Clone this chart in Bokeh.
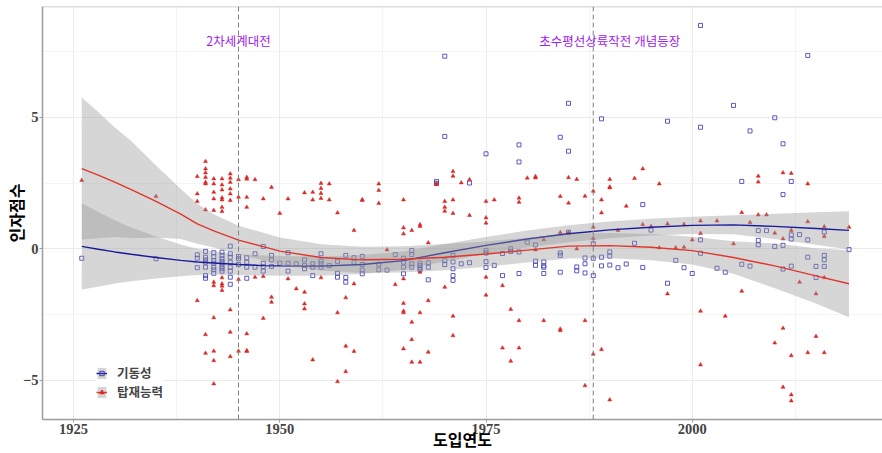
from bokeh.plotting import figure
from bokeh.models import FixedTicker, Span, Label, Legend, LegendItem
from bokeh.embed import file_html
from bokeh.resources import INLINE

# ---------------- data ----------------
series_names = ["기동성", "탑재능력"]

red_years = (
    [1926, 1935] + [1940]*4 + [1941]*9 + [1942]*11 + [1943]*11 + [1944]*9 + [1945]*4 + [1946]*7
    + [1947]*2 + [1948]*3 + [1949]*3 + [1950] + [1951]*2 + [1952] + [1953]*4 + [1954]*3 + [1955]*5
    + [1956]*2 + [1957]*3 + [1958]*3 + [1959]*3 + [1960]*2 + [1962]*3 + [1963] + [1964] + [1965]*8
    + [1966]*4 + [1967]*5 + [1968]*3 + [1969]*2 + [1970]*4 + [1971]*6 + [1972] + [1973]*2 + [1975]*5
    + [1976] + [1977]*2 + [1978]*2 + [1979]*4 + [1980] + [1981]*3 + [1982]*2 + [1984]*4 + [1985]*3
    + [1986]*2 + [1987]*3 + [1988]*4 + [1989]*3 + [1990]*4 + [1991] + [1992] + [1993] + [1994]*2
    + [1995] + [1996]*2 + [1997]*2 + [1998] + [1999]*2 + [2000] + [2001]*4 + [2003] + [2004] + [2005]
    + [2006]*2 + [2007] + [2008]*3 + [2009] + [2010]*2 + [2011]*4 + [2012]*5 + [2013] + [2014]*3
    + [2015]*2 + [2016]*4 + [2019]
)
red_scores = [
    2.6, 1.99,
    2.75, 2.09, 1.8, -1.97,
    3.32, 3.04, 2.89, 2.72, 2.53, 2.47, 1.48, -3.26, -3.97,
    2.66, 2.47, 2.15, 1.9, 1.46, -1.27, -1.4, -2.62, -3.89, -4.25, -5.13,
    2.66, 2.43, 2.24, 1.94, 1.86, 1.58, 1.42, -1.1, -1.33, -1.42, -1.58,
    2.85, 2.69, 2.53, 2.28, 2.09, 1.84, -2.32, -3.17, -4.1,
    2.63, 1.96, -1.16, -3.89,
    2.72, 2.65, 1.96, 1.58, -3.23, -3.87, -3.9,
    2.63, -1.08,
    1.9, -1.05, -2.64,
    2.34, -1.84, -2.03,
    1.35,
    1.9, -1.14,
    -1.52,
    2.13, -1.65, -2.09, -2.28,
    2.15, 1.86, -4.22,
    2.49, 2.3, 2.11, 1.92, -1.1,
    2.47, 1.86,
    1.37, -2.43, -5.05,
    -1.86, -3.7, -4.67,
    0.7, -1.33, -3.9,
    1.87, 1.84,
    2.47, 2.22, 1.73,
    -0.04,
    -1.36,
    1.86, 0.8, 0.57, -1.14, -2.07, -2.37, -2.43, -3.8,
    0.7, -2.79, -3.45, -4.31,
    0.92, 0.85, -0.89, -2.43, -4.31,
    0.23, -1.97, -3.93,
    2.49, 2.44,
    1.8, 1.58, 1.43, -1.46,
    2.94, 2.76, 1.86, 1.35, -2.56, -3.3,
    2.51,
    2.63, 1.27,
    1.8, 1.18, 0.98, -1.08, -1.76,
    1.86,
    -1.4, -3.77,
    -2.3, -4.27,
    1.93, 1.77, -2.73, -3.77,
    2.69,
    2.75, 2.7, -0.04,
    0.35, -2.73,
    1.99, 0.62, -3.05, -3.11,
    2.71, 1.74, 0.62,
    2.64, 0.0,
    2.0, -2.73, -5.2,
    2.19, 0.82, 0.4, -4.0,
    1.86, 1.37, -3.83,
    2.64, 2.35, 2.32, -5.74,
    0.7,
    1.62,
    2.68,
    3.04, 0.92,
    0.85,
    2.47, 0.04,
    0.95, -1.71,
    0.04,
    0.93, 0.06,
    0.34,
    1.06, 0.59, -2.37, -4.41,
    1.06,
    -2.56,
    0.19,
    1.38, -1.61,
    1.0,
    2.76, 2.54, 1.29,
    1.29,
    0.6, -3.58,
    2.89, 0.38, -3.02, -5.26,
    2.87, 0.7, -4.06, -5.55, -5.78,
    -1.27,
    2.47, 1.03, -3.95,
    -1.71, -3.33,
    0.84, 0.47, -1.09, -3.95,
    0.82,
]

blue_years = (
    [1926, 1935] + [1940]*3 + [1941]*7 + [1942]*7 + [1943]*8 + [1944]*8 + [1945]*3 + [1946]*4
    + [1947]*2 + [1948]*4 + [1949]*3 + [1950] + [1951]*3 + [1952] + [1953]*3 + [1954]*3 + [1955]*4
    + [1956] + [1957]*3 + [1958]*3 + [1959]*2 + [1960]*4 + [1962]*2 + [1963] + [1964] + [1965]*4
    + [1966]*4 + [1967]*4 + [1968]*3 + [1969]*2 + [1970]*4 + [1971]*5 + [1972] + [1973]*2 + [1975]*5
    + [1976] + [1977]*2 + [1978]*2 + [1979]*4 + [1980] + [1981]*3 + [1982]*4 + [1984]*4 + [1985]*3
    + [1986]*2 + [1987]*3 + [1988]*3 + [1989]*3 + [1990]*3 + [1991] + [1992] + [1993] + [1994]*2
    + [1995] + [1997]*2 + [1998] + [1999] + [2000] + [2001]*4 + [2003] + [2004] + [2005] + [2006]*2
    + [2007]*2 + [2008]*3 + [2009] + [2010]*2 + [2011]*4 + [2012]*4 + [2013] + [2014]*3 + [2015]*2
    + [2016]*4 + [2019]
)
blue_scores = [
    -0.36, -0.38,
    -0.23, -0.36, -0.72,
    -0.1, -0.32, -0.42, -0.51, -0.7, -1.02, -1.12,
    -0.15, -0.3, -0.45, -0.55, -0.7, -0.8, -0.93,
    -0.13, -0.25, -0.38, -0.48, -0.57, -0.67, -0.76, -0.85,
    0.1, -0.19, -0.32, -0.51, -0.7, -0.85, -1.08, -1.35,
    -0.29, -0.38, -0.6,
    -0.34, -0.51, -0.7, -1.12,
    -0.19, -0.7,
    0.09, -0.55, -0.68, -0.85,
    -0.25, -0.42, -0.67,
    -0.55,
    -0.15, -0.55, -0.85,
    -0.57,
    -0.42, -0.63, -0.76,
    -0.57, -0.7, -1.02,
    -0.19, -0.47, -0.57, -0.7,
    -0.64,
    -0.48, -0.93, -1.08,
    -0.25, -1.09, -1.27,
    -0.34, -0.51,
    -0.29, -0.6, -0.81, -0.95,
    -0.59, -0.8,
    -0.81,
    -0.22,
    -0.36, -0.51, -0.7, -0.95,
    -0.07, -0.22, -0.57, -0.7,
    -0.55, -0.64, -0.73, -0.8,
    -0.53, -0.7, -1.18,
    2.56, 2.49,
    7.32, 4.27, -0.44, -0.6,
    -0.25, -0.5, -0.76, -1.02, -1.2,
    -0.57,
    2.5, -0.53,
    3.61, -0.06, -0.16, -0.49, -0.71,
    -0.63,
    -0.18, -1.02,
    0.0, -0.1,
    3.95, 3.3, -0.12, -0.94,
    0.25,
    0.15, -0.47, -0.63,
    -0.5, -0.65, -0.7, -0.94,
    4.24, -0.16, -0.25, -0.89,
    5.53, 3.71, 0.63,
    -0.69, -0.84,
    -0.35, -0.57, -0.92,
    0.19, -0.36, -1.02,
    4.94, -0.32, -0.65,
    -0.12, -0.28, -0.62,
    -0.72,
    -0.58,
    0.21,
    1.68, -0.71,
    0.71,
    4.85, -1.31,
    -0.44,
    -0.72,
    -0.94,
    8.49, 4.62, 0.34, -0.17,
    -0.74,
    -0.89,
    5.45,
    2.56, -0.59,
    4.48, -0.66,
    0.69, 0.32, 0.15,
    0.69,
    4.98, 0.09,
    3.99, 2.06, 0.13, -0.77,
    2.56, 0.53, 0.37, -0.66,
    0.54,
    7.35, 0.34, -0.32,
    -0.67, -1.09,
    0.64, -0.25, -0.42, -0.67,
    -0.03,
]

# smoothed trend lines and their confidence bands
smooth_years = [1926, 1928, 1930, 1932, 1935, 1938, 1940, 1942, 1945, 1948, 1950, 1955,
                1960, 1965, 1970, 1975, 1980, 1985, 1990, 1995, 2000, 2005, 2010, 2015, 2019]
blue_fit = [0.09, -0.02, -0.12, -0.21, -0.33, -0.44, -0.50, -0.54, -0.60, -0.64, -0.65, -0.66,
            -0.60, -0.45, -0.15, 0.13, 0.37, 0.57, 0.72, 0.82, 0.89, 0.91, 0.85, 0.77, 0.70]
blue_halfwidth = [1.64, 1.42, 1.20, 1.02, 0.80, 0.60, 0.50, 0.45, 0.40, 0.38, 0.38, 0.37,
                  0.36, 0.35, 0.33, 0.32, 0.32, 0.32, 0.32, 0.32, 0.33, 0.36, 0.48, 0.62, 0.73]
red_fit = [3.05, 2.80, 2.53, 2.25, 1.80, 1.32, 0.95, 0.68, 0.33, 0.08, -0.09, -0.33,
           -0.42, -0.40, -0.32, -0.20, -0.05, 0.10, 0.12, 0.06, -0.07, -0.33, -0.65, -1.03, -1.33]
red_halfwidth = [2.70, 2.40, 2.08, 1.85, 1.37, 0.95, 0.76, 0.63, 0.55, 0.53, 0.52, 0.50,
                 0.50, 0.50, 0.50, 0.48, 0.47, 0.47, 0.48, 0.50, 0.53, 0.62, 0.85, 1.05, 1.27]

x_ticks = [1925, 1950, 1975, 2000]
x_minor = [1937.5, 1962.5, 1987.5, 2012.5]
y_ticks = [-5, 0, 5]
y_minor = [-2.5, 2.5, 7.5]

events = [(1945, "2차세계대전", 1945), (1988, "초수평선상륙작전 개념등장", 1990)]
event_label_y = 7.92

x_title = "도입연도"
y_title = "인자점수"

# ---------------- styles ----------------
BLUE_PT = "#4040B8"
RED_PT = "#D92A2A"
BLUE_LN = "#1B1B9A"
RED_LN = "#E0362C"
KR = "Noto Sans CJK KR"
KR_COMPACT = "DejaVu Sans, Noto Sans CJK KR"   # compact line metrics, Hangul from Noto CJK

X0, X1 = 1921.24, 2023.06
Y0, Y1 = -6.49, 9.21

p = figure(width=882, height=453, x_range=(X0, X1), y_range=(Y0, Y1),
           output_backend="svg", toolbar_location=None,
           min_border_left=42, min_border_right=0, min_border_top=6, min_border_bottom=34)
p.background_fill_color = "white"
p.border_fill_color = "white"
p.outline_line_color = None

# grid
p.xaxis.ticker = FixedTicker(ticks=x_ticks, minor_ticks=x_minor)
p.yaxis.ticker = FixedTicker(ticks=y_ticks, minor_ticks=y_minor)
p.xgrid.ticker = FixedTicker(ticks=x_ticks, minor_ticks=x_minor)
p.ygrid.ticker = FixedTicker(ticks=y_ticks, minor_ticks=y_minor)
for g in (p.xgrid, p.ygrid):
    g.grid_line_color = "#EBEBEB"
    g.grid_line_width = 1
    g.minor_grid_line_color = "#F4F4F4"
    g.minor_grid_line_width = 1

# axes
for ax in (p.xaxis, p.yaxis):
    ax.axis_line_color = "#9C9C9C"
    ax.axis_line_width = 1.5
    ax.major_tick_line_color = "#9C9C9C"
    ax.major_tick_out = 3
    ax.major_tick_in = 0
    ax.minor_tick_out = 0
    ax.minor_tick_in = 0
    ax.major_label_text_font = "Liberation Serif"
    ax.major_label_text_font_style = "bold"
    ax.major_label_text_font_size = "14.5px"
    ax.major_label_text_color = "#444444"
    ax.major_label_text_line_height = 1.0
    ax.major_label_standoff = 1
    ax.axis_label_text_font = KR
    ax.axis_label_text_font_style = "bold"
    ax.axis_label_text_font_size = "16px"
    ax.axis_label_text_color = "black"
    ax.axis_label_text_line_height = 1.0
p.xaxis.axis_label = x_title
p.yaxis.axis_label = y_title
p.xaxis.axis_label_standoff = -10
p.yaxis.axis_label_standoff = -8

p.add_layout(Span(location=Y1, dimension="width", line_color="#BDBDBD", line_width=1.5))

# points
p.scatter(blue_years, blue_scores, marker="square", size=4, fill_color=None,
          line_color=BLUE_PT, line_width=1, line_alpha=0.85)
p.scatter(red_years, red_scores, marker="triangle", size=4, fill_color=RED_PT,
          line_color=RED_PT, line_width=0.5)

# smooth bands + lines
blue_lo = [f - h for f, h in zip(blue_fit, blue_halfwidth)]
blue_hi = [f + h for f, h in zip(blue_fit, blue_halfwidth)]
red_lo = [f - h for f, h in zip(red_fit, red_halfwidth)]
red_hi = [f + h for f, h in zip(red_fit, red_halfwidth)]

b_band = p.varea(x=smooth_years, y1=blue_lo, y2=blue_hi, fill_color="#999999", fill_alpha=0.4)
b_line = p.line(smooth_years, blue_fit, line_color=BLUE_LN, line_width=1.4)
r_band = p.varea(x=smooth_years, y1=red_lo, y2=red_hi, fill_color="#999999", fill_alpha=0.4)
r_line = p.line(smooth_years, red_fit, line_color=RED_LN, line_width=1.4)

# legend key markers (placed off-range, only shown in the legend)
b_key = p.scatter([X0 - 10], [0], marker="square", size=4, fill_color=None,
                  line_color=BLUE_PT, line_width=1)
r_key = p.scatter([X0 - 10], [0], marker="triangle", size=4, fill_color=RED_PT,
                  line_color=RED_PT)

# event lines + labels
for loc, txt, lx in events:
    p.add_layout(Span(location=loc, dimension="height", line_color="#808080",
                      line_dash="5 3", line_width=1))
    p.add_layout(Label(x=lx, y=event_label_y, text=txt, text_align="center",
                       text_baseline="middle", text_font=KR, text_font_size="12.5px",
                       text_color="#A020F0"))

legend = Legend(items=[
    LegendItem(label=series_names[0], renderers=[b_band, b_line, b_key]),
    LegendItem(label=series_names[1], renderers=[r_band, r_line, r_key]),
], location=(54, 18))
legend.label_text_font = KR_COMPACT
legend.label_text_font_style = "bold"
legend.label_text_font_size = "12.5px"
legend.label_text_line_height = 1.0
legend.glyph_width = 11
legend.glyph_height = 14
legend.label_height = 14
legend.spacing = 0
legend.padding = 4
legend.margin = 0
legend.label_standoff = 10
legend.border_line_color = None
legend.background_fill_color = "white"
legend.background_fill_alpha = 1
p.add_layout(legend)

open("out.html", "w").write(file_html(p, INLINE))
